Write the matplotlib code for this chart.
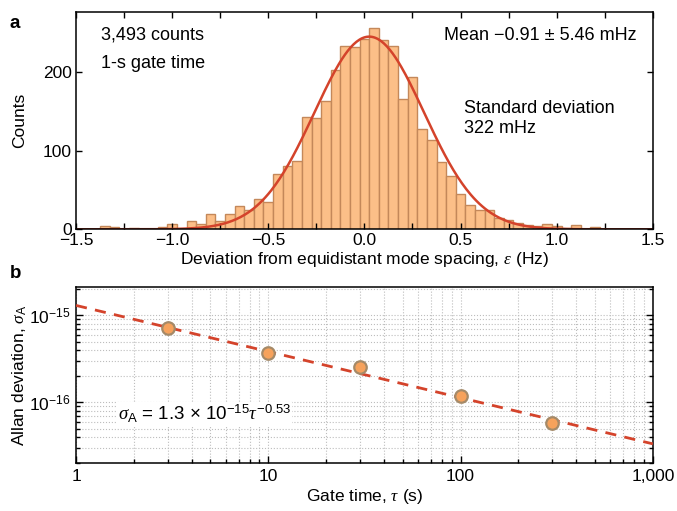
import numpy as np
import matplotlib
matplotlib.use("Agg")
import matplotlib.pyplot as plt
from matplotlib.ticker import MultipleLocator, FixedLocator, FuncFormatter, LogLocator, NullFormatter

plt.rcParams['font.family'] = ['Liberation Sans', 'DejaVu Sans']
plt.rcParams['font.size'] = 12.5
plt.rcParams['mathtext.fontset'] = 'custom'
plt.rcParams['mathtext.rm'] = 'Liberation Sans'
plt.rcParams['mathtext.it'] = 'Liberation Serif:italic'

# panel a: histogram, bin centres (Hz) and counts
bin_centers = [-1.35, -1.30, -1.20, -1.05, -1.00, -0.90, -0.85, -0.80, -0.75, -0.70,
               -0.65, -0.60, -0.55, -0.50, -0.45, -0.40, -0.35, -0.30, -0.25, -0.20,
               -0.15, -0.10, -0.05, 0.00, 0.05, 0.10, 0.15, 0.20, 0.25, 0.30,
               0.35, 0.40, 0.45, 0.50, 0.55, 0.60, 0.65, 0.70, 0.75, 0.80,
               0.85, 0.90, 0.95, 1.00, 1.05, 1.10, 1.20]
counts = [4, 3, 2, 3, 7, 10, 7, 19, 11, 20,
          29, 25, 39, 35, 70, 80, 87, 143, 141, 163,
          202, 233, 232, 242, 256, 241, 233, 166, 194, 127,
          113, 86, 68, 45, 31, 25, 24, 14, 12, 8,
          5, 4, 7, 4, 2, 5, 3]
bin_width = 0.05

# gaussian fit parameters
fit_mu = 0.025
fit_sigma = 0.285
fit_amp = 245

# panel b: Allan deviation
gate_times = [3, 10, 30, 100, 300]
allan_dev = [7.1e-16, 3.7e-16, 2.55e-16, 1.17e-16, 5.8e-17]
pl_coeff = 1.3e-15
pl_exp = -0.53

fig = plt.figure(figsize=(6.77, 5.11), dpi=100)
ax1 = fig.add_axes([0.1123, 0.5513, 0.852, 0.4247])
ax2 = fig.add_axes([0.1123, 0.0934, 0.852, 0.3444])

# --- a ---
ax1.bar(bin_centers, counts, width=bin_width, color='#fcbf88', edgecolor='#c4885a', linewidth=1.0)
xs = np.linspace(-1.5, 1.5, 400)
ax1.plot(xs, fit_amp * np.exp(-0.5 * ((xs - fit_mu) / fit_sigma) ** 2), color='#d4432b', lw=1.8)
ax1.set_xlim(-1.5, 1.5)
ax1.set_ylim(0, 276)
ax1.xaxis.set_major_locator(MultipleLocator(0.5))
ax1.xaxis.set_minor_locator(MultipleLocator(0.25))
ax1.yaxis.set_major_locator(FixedLocator([0, 100, 200]))
ax1.tick_params(which='both', direction='in', top=True, right=True, length=4, width=1)
ax1.tick_params(axis='both', labelsize=12.5, pad=3)
ax1.set_ylabel('Counts', fontsize=12.5, labelpad=11)
ax1.set_xlabel(r'Deviation from equidistant mode spacing, $\varepsilon$ (Hz)', fontsize=12.5, labelpad=1)
ax1.text(0.043, 0.895, '3,493 counts', transform=ax1.transAxes, fontsize=13, va='center')
ax1.text(0.043, 0.765, '1-s gate time', transform=ax1.transAxes, fontsize=13, va='center')
ax1.text(0.972, 0.895, 'Mean \u22120.91 \u00b1 5.46 mHz', transform=ax1.transAxes, fontsize=13,
         va='center', ha='right')
ax1.text(0.672, 0.51, 'Standard deviation\n322 mHz', transform=ax1.transAxes, fontsize=13,
         va='center', linespacing=1.25)

# --- b ---
taus = np.logspace(0, 3, 100)
ax2.plot(taus, pl_coeff * taus ** pl_exp, color='#d4432b', lw=2, dashes=(4, 3), zorder=3)
ax2.plot(gate_times, allan_dev, 'o', ms=9, mfc='#f6a25c', mec='#a58a68', mew=1.6, zorder=4)
ax2.set_xscale('log')
ax2.set_yscale('log')
ax2.set_xlim(1, 1000)
ax2.set_ylim(2e-17, 2.1e-15)
ax2.grid(which='both', color='#bdbdbd', linestyle=':', linewidth=0.8)
ax2.yaxis.set_major_locator(LogLocator(base=10, numticks=10))
ax2.yaxis.set_minor_locator(LogLocator(base=10, subs=np.arange(2, 10), numticks=10))
ax2.yaxis.set_minor_formatter(NullFormatter())
ax2.xaxis.set_minor_formatter(NullFormatter())
ax2.xaxis.set_major_formatter(FuncFormatter(lambda v, p: f'{int(round(v)):,}'))
ax2.tick_params(which='both', direction='in', right=True, width=1)
ax2.tick_params(which='major', length=5)
ax2.tick_params(which='minor', length=3)
ax2.tick_params(axis='both', labelsize=12.5, pad=4)
ax2.set_ylabel(r'Allan deviation, $\sigma_{\mathrm{A}}$', fontsize=12.5, labelpad=0)
ax2.set_xlabel(r'Gate time, $\tau$ (s)', fontsize=12.5, labelpad=2)
ax2.text(0.072, 0.28, r'$\sigma_{\mathrm{A}}$ = 1.3 $\times$ 10$^{\mathrm{-15}}$$\tau^{\mathrm{-0.53}}$',
         transform=ax2.transAxes, fontsize=13.5, va='center',
         bbox=dict(facecolor='white', edgecolor='none', pad=1))

for ax in (ax1, ax2):
    for s in ax.spines.values():
        s.set_linewidth(1.1)

fig.text(0.014, 0.945, 'a', fontsize=13.5, fontweight='bold')
fig.text(0.014, 0.455, 'b', fontsize=13.5, fontweight='bold')

fig.savefig('out.png', dpi=100)
